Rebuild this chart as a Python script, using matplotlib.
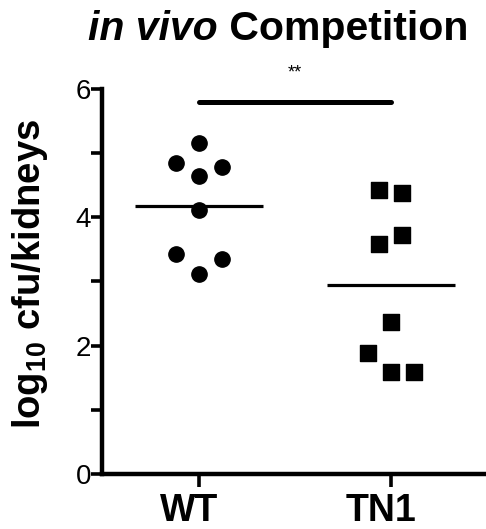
import numpy as np
import matplotlib
matplotlib.use("Agg")
import matplotlib.pyplot as plt
from matplotlib.transforms import ScaledTranslation

plt.rcParams['font.family'] = ['Liberation Sans', 'DejaVu Sans']
plt.rcParams['mathtext.fontset'] = 'custom'
plt.rcParams['mathtext.rm'] = 'Liberation Sans:bold'
plt.rcParams['mathtext.bf'] = 'Liberation Sans:bold'

# data (log10 cfu/kidneys)
groups = ["WT", "TN1"]
wt_vals = [5.16, 4.85, 4.78, 4.64, 4.12, 3.43, 3.35, 3.12]
wt_offsets = [0.0, -0.12, 0.12, 0.0, 0.0, -0.12, 0.12, 0.0]
tn1_vals = [4.43, 4.38, 3.72, 3.59, 2.37, 1.89, 1.59, 1.59]
tn1_offsets = [-0.06, 0.06, 0.06, -0.06, 0.0, -0.12, 0.0, 0.12]
sig_y = 5.8
sig_text = "**"

fig = plt.figure(figsize=(4.86, 5.29), dpi=100)
ax = fig.add_axes([0.21, 0.104, 0.79, 0.728])

ax.scatter(np.array(wt_offsets) + 0, wt_vals, marker='o', s=11**2, color='black', zorder=3, clip_on=False)
ax.scatter(np.array(tn1_offsets) + 1, tn1_vals, marker='s', s=11.5**2, color='black', zorder=3, clip_on=False)

# mean lines
for i, vals in enumerate([wt_vals, tn1_vals]):
    m = np.mean(vals)
    ax.plot([i - 0.333, i + 0.333], [m, m], color='black', lw=2.3, solid_capstyle='butt')

# significance bar
ax.plot([0, 1], [sig_y, sig_y], color='black', lw=3.6, solid_capstyle='round', clip_on=False)
ax.text(0.5, 6.24, sig_text, ha='center', va='center', fontsize=13, clip_on=False)

ax.set_xlim(-0.505, 1.495)
ax.set_ylim(0, 6)
ax.set_xticks([0, 1])
ax.set_xticklabels(groups, fontsize=27, fontweight='bold')
ax.set_yticks([0, 2, 4, 6])
ax.set_yticks([1, 3, 5], minor=True)
ax.tick_params(axis='y', which='both', length=8, width=2.6, labelsize=20, pad=0)
ax.tick_params(axis='x', length=9, width=2.6, pad=5)

# labels sit a little left of their ticks in the original
shift = ScaledTranslation(-0.10, 0, fig.dpi_scale_trans)
for lab in ax.get_xticklabels():
    lab.set_transform(lab.get_transform() + shift)

for s in ['top', 'right']:
    ax.spines[s].set_visible(False)
for s in ['left', 'bottom']:
    ax.spines[s].set_linewidth(3.2)

fig.text(30 / 486, 1 - 274 / 529, r"log$_{10}$ cfu/kidneys", rotation=90,
         ha='center', va='center', fontsize=27.5, fontweight='bold')

# title: italic part + upright part
t1 = fig.text(88 / 486, 1 - 40 / 529, "in vivo", fontsize=29.5, fontweight='bold',
              style='italic', ha='left', va='baseline')
ax.annotate(" Competition", xy=(1, 0), xycoords=t1, fontsize=29.5, fontweight='bold',
            ha='left', va='bottom', annotation_clip=False)

fig.savefig("out.png", dpi=100)
